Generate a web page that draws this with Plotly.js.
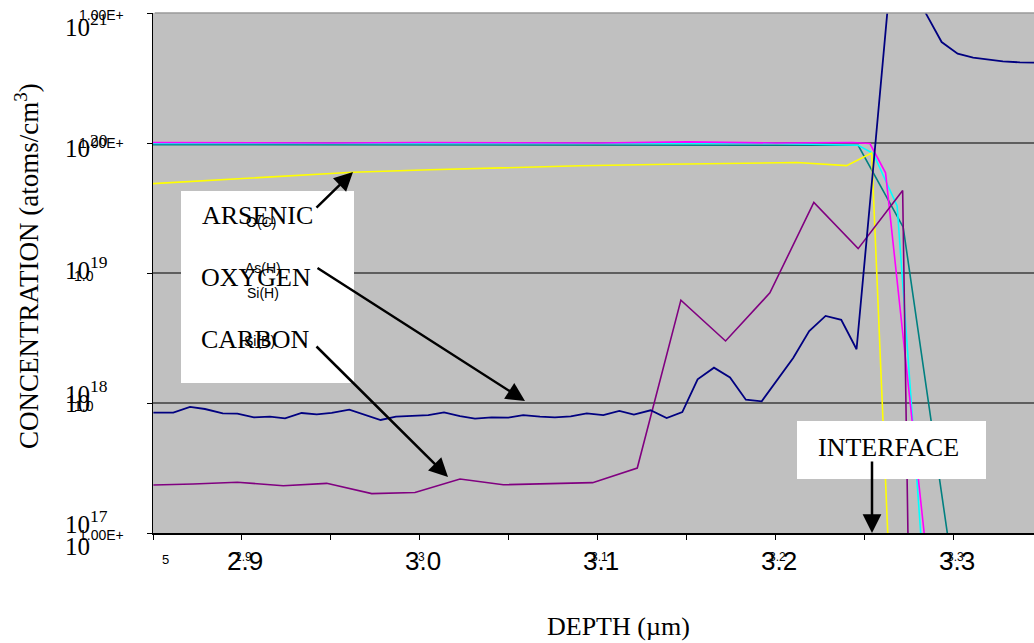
<!DOCTYPE html>
<html>
<head>
<meta charset="utf-8">
<script src="https://cdn.plot.ly/plotly-3.0.1.min.js"></script>
<style>html,body{margin:0;padding:0;background:#fff;}#chart{width:1034px;height:643px;}</style>
</head>
<body>
<div id="chart"></div>
<script>
// ---- data (depth in µm, concentration in atoms/cm3) ----
const depthOxygen = [2.8502,2.8614,2.8708,2.8792,2.8892,2.8974,2.9067,2.9157,2.9242,2.9335,2.9420,2.9504,2.9603,2.9691,2.9779,2.9865,2.9953,3.0047,3.0135,3.0225,3.0309,3.0403,3.0496,3.0580,3.0674,3.0758,3.0847,3.0937,3.1030,3.1120,3.1202,3.1296,3.1386,3.1474,3.1560,3.1652,3.1742,3.1831,3.1920,3.2007,3.2097,3.2187,3.2279,3.2367,3.2453,3.2542,3.2630,3.2719,3.2841,3.2931,3.3021,3.3108,3.3193,3.3275,3.3371,3.3460];
const oxygen = [8.43e17,8.43e17,9.32e17,8.99e17,8.33e17,8.29e17,7.76e17,7.86e17,7.62e17,8.38e17,8.18e17,8.38e17,8.90e17,8.08e17,7.40e17,7.86e17,8.00e17,8.08e17,8.48e17,7.94e17,7.58e17,7.76e17,7.72e17,8.08e17,7.86e17,7.76e17,7.90e17,8.33e17,8.08e17,8.68e17,8.14e17,8.79e17,7.66e17,8.52e17,1.52e18,1.87e18,1.57e18,1.06e18,1.03e18,1.51e18,2.22e18,3.57e18,4.68e18,4.36e18,2.59e18,5.5e19,1.17e21,3.0e21,1.0e21,5.98e20,4.87e20,4.53e20,4.37e20,4.24e20,4.17e20,4.15e20];

const depthCarbon = [2.8502,2.8726,2.8974,2.9232,2.9476,2.9729,2.9972,3.0225,3.0468,3.0721,3.0970,3.1221,3.1466,3.1717,3.1966,3.2213,3.2462,3.2712,3.2753];
const carbon = [2.34e17,2.38e17,2.46e17,2.31e17,2.41e17,2.01e17,2.05e17,2.60e17,2.35e17,2.38e17,2.44e17,3.16e17,6.18e18,3.0e18,7.03e18,3.49e19,1.54e19,4.32e19,1.0e16];

const depthArsenic = [2.8500,2.9062,2.9624,3.0056,3.0449,3.0899,3.1399,3.1798,3.2118,3.2397,3.2538,3.2652];
const arsenic = [4.87e19,5.40e19,5.95e19,6.22e19,6.46e19,6.68e19,6.86e19,6.98e19,7.08e19,6.70e19,8.38e19,1.7e16];

const depthSiH = [2.85,2.90,2.95,3.00,3.05,3.10,3.15,3.20,3.2431,3.2528,3.2616,3.2893];
const siH = [1.01e20,1.00e20,1.00e20,1.01e20,1.00e20,1.00e20,1.02e20,1.00e20,1.01e20,0.99e20,5.9e19,1.7e16];

const depthSiB = [2.85,2.90,2.95,3.00,3.05,3.10,3.15,3.20,3.2462,3.2547,3.2681,3.2865];
const siB = [0.99e20,0.99e20,0.985e20,0.99e20,0.99e20,0.985e20,0.99e20,0.99e20,0.96e20,8.3e19,3.28e19,1.05e16];

const depthSiC = [2.85,2.90,2.95,3.00,3.05,3.10,3.15,3.20,3.2462,3.2715,3.2965,3.3213];
const siC = [0.97e20,0.97e20,0.97e20,0.97e20,0.97e20,0.97e20,0.97e20,0.965e20,0.96e20,2.25e19,9.55e16,1.0e16];

const xTickVals = [2.85,2.90,2.95,3.00,3.05,3.10,3.15,3.20,3.25,3.30];
const xLabelVals = [2.9,3.0,3.1,3.2,3.3];
const xLabels = ['2.9','3.0','3.1','3.2','3.3'];
const xSmallLabels = ['2.9','3','3.1','3.2','3.3'];
const yTickVals = [1e17,1e18,1e19,1e20,1e21];
const yLabels = ['10<sup>17</sup>','10<sup>18</sup>','10<sup>19</sup>','10<sup>20</sup>','10<sup>21</sup>'];

// ---- layout helpers (pixel -> paper) ----
const L = 153, T = 13, W = 881, H = 520;
const PX = x => (x - L) / W;
const PY = y => (T + H - y) / H;
const XR = [2.85, 3.345];
const xPix = v => L + (v - XR[0]) / (XR[1] - XR[0]) * W;

const serif = 'Liberation Serif, Times New Roman, serif';
const sans = 'Liberation Sans, Arial, sans-serif';

function line(x, y, color, name, w) {
  return {x: x, y: y, type: 'scatter', mode: 'lines', name: name,
          line: {color: color, width: w || 1.6}, hoverinfo: 'skip'};
}
const traces = [
  line(depthSiC, siC, '#008080', 'Si(C)'),
  line(depthSiB, siB, '#00FFFF', 'Si(B)'),
  line(depthSiH, siH, '#FF00FF', 'Si(H)'),
  line(depthArsenic, arsenic, '#FFFF00', 'ARSENIC'),
  line(depthCarbon, carbon, '#800080', 'CARBON'),
  line(depthOxygen, oxygen, '#000080', 'OXYGEN', 1.8)
];

function txt(text, x, y, size, font, opts) {
  return Object.assign({text: text, xref: 'paper', yref: 'paper', x: PX(x), y: PY(y),
    showarrow: false, xanchor: 'center', yanchor: 'middle',
    font: {family: font, size: size, color: '#000'}}, opts || {});
}
function arrow(hx, hy, tx, ty) {
  return {text: '', xref: 'paper', yref: 'paper', x: PX(hx), y: PY(hy),
    ax: tx - hx, ay: ty - hy, showarrow: true, arrowhead: 2, arrowsize: 1.5,
    arrowwidth: 2.5, arrowcolor: '#000', standoff: 0};
}

const yLabelPos = [522, 392, 268, 146, 25];
const ann = [];
yLabels.forEach((t, i) => ann.push(txt(t, 110, yLabelPos[i], 25, serif, {xanchor: 'right'})));
ann.push(txt('10', 92, 403, 25, serif, {xanchor: 'right'}));
ann.push(txt('10', 92, 546, 25, serif, {xanchor: 'right'}));
[15, 143, 535].forEach(y => ann.push(txt('1.00E+', 77, y, 14, sans, {xanchor: 'left'})));
[276, 406].forEach(y => ann.push(txt('1.0', 72, y, 14, sans, {xanchor: 'left'})));

xLabels.forEach((t, i) => ann.push(txt(t, xPix(xLabelVals[i]) + 3, 561, 26, sans)));
xSmallLabels.forEach((t, i) => ann.push(txt(t, xPix(xLabelVals[i]) + 2, 557, 12, sans)));
ann.push(txt('5', 165, 559, 13, sans));

ann.push(txt('DEPTH (µm)', 618, 626, 26, serif));
ann.push(txt('CONCENTRATION (atoms/cm<sup>3</sup>)', 27, 266, 27, serif, {textangle: -90}));

ann.push(txt('ARSENIC', 257, 216, 26, serif));
ann.push(txt('OXYGEN', 256, 277, 26, serif));
ann.push(txt('CARBON', 255, 339, 26, serif));
ann.push(txt('O(C)', 261, 222, 14, sans));
ann.push(txt('As(H)', 263, 268, 14, sans));
ann.push(txt('Si(H)', 263, 293, 14, sans));
ann.push(txt('Si(B)', 259, 341, 14, sans));
ann.push(txt('INTERFACE', 888, 447, 26, serif));

ann.push(arrow(353, 172, 315, 209));
ann.push(arrow(525, 401, 316, 267));
ann.push(arrow(448, 477, 315, 345));
ann.push(arrow(872, 533, 872, 460));

const shapes = [
  {type: 'rect', xref: 'paper', yref: 'paper', x0: PX(181), x1: PX(354), y0: PY(383), y1: PY(191),
   fillcolor: '#FFFFFF', line: {width: 0}, layer: 'above'},
  {type: 'rect', xref: 'paper', yref: 'paper', x0: PX(797), x1: PX(986), y0: PY(479), y1: PY(421),
   fillcolor: '#FFFFFF', line: {width: 0}, layer: 'above'},
  {type: 'line', xref: 'paper', yref: 'paper', x0: 0.002, x1: 1, y0: 1, y1: 1,
   line: {color: '#9a9a9a', width: 1.5}, layer: 'above'}
];

const layout = {
  width: 1034, height: 643,
  margin: {l: L, r: 0, t: T, b: 643 - T - H, pad: 0},
  paper_bgcolor: '#FFFFFF', plot_bgcolor: '#C0C0C0',
  showlegend: false,
  xaxis: {range: XR, tickmode: 'array', tickvals: xTickVals, ticktext: xTickVals.map(() => ''),
          ticks: 'outside', ticklen: 5, tickwidth: 1, tickcolor: '#000',
          showline: true, linecolor: '#000', linewidth: 1.5, showgrid: false, zeroline: false},
  yaxis: {type: 'log', range: [17, 21], tickmode: 'array', tickvals: yTickVals,
          ticktext: yTickVals.map(() => ''), ticks: 'outside', ticklen: 5, tickwidth: 1, tickcolor: '#000',
          showline: true, linecolor: '#000', linewidth: 1.5, showgrid: true,
          gridcolor: '#5e5e5e', gridwidth: 1.5, zeroline: false},
  annotations: ann,
  shapes: shapes
};

Plotly.newPlot('chart', traces, layout, {displayModeBar: false, staticPlot: true});
</script>
</body>
</html>
